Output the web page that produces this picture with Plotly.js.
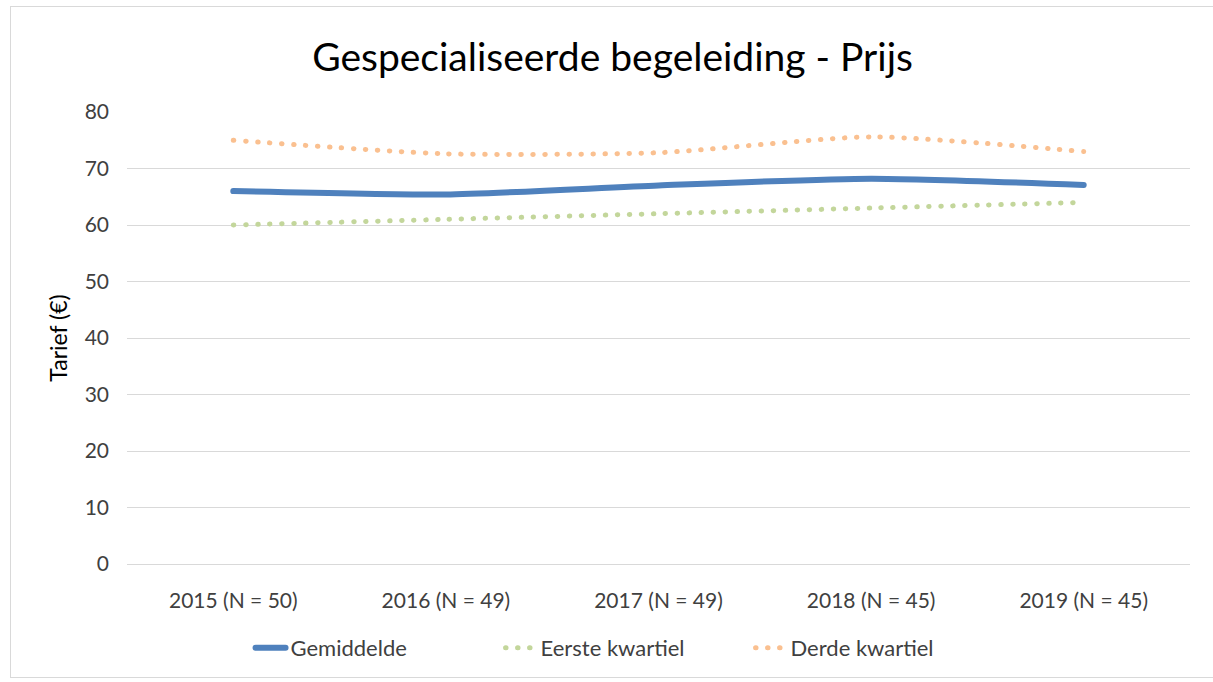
<!DOCTYPE html>
<html>
<head>
<meta charset="utf-8">
<script src="https://cdn.plot.ly/plotly-3.0.1.min.js"></script>
<style>
  html, body { margin: 0; padding: 0; background: #fff; }
  #chart { width: 1213px; height: 682px; }
  #frame { position: absolute; left: 10px; top: 6px; width: 1220px; height: 670px; border: 1px solid #d9d9d9; pointer-events: none; }
  .scatterlayer .js-line, .legend .js-line { stroke-linecap: round; }
</style>
</head>
<body>
<div id="chart"></div>
<div id="frame"></div>
<script>
const categories = ["2015 (N = 50)", "2016 (N = 49)", "2017 (N = 49)", "2018 (N = 45)", "2019 (N = 45)"];
const gemiddelde = [66.0, 65.4, 67.0, 68.2, 67.1];
const eersteKwartiel = [60.0, 61.0, 62.0, 63.0, 64.0];
const derdeKwartiel = [75.0, 72.6, 72.8, 75.6, 73.0];
const yTicks = [0, 10, 20, 30, 40, 50, 60, 70, 80];

const font = "Lato, 'Open Sans', sans-serif";

const traces = [
  { x: categories, y: gemiddelde, name: "Gemiddelde", type: "scatter", mode: "lines",
    line: { color: "#4f81bd", width: 6, shape: "spline", smoothing: 0.6 } },
  { x: categories, y: eersteKwartiel, name: "Eerste kwartiel", type: "scatter", mode: "lines",
    line: { color: "#c3d69b", width: 5, shape: "spline", smoothing: 0.6, dash: "0.5px,11.5px" } },
  { x: categories, y: derdeKwartiel, name: "Derde kwartiel", type: "scatter", mode: "lines",
    line: { color: "#fac090", width: 5, shape: "spline", smoothing: 0.6, dash: "0.5px,11.5px" } }
];

const layout = {
  width: 1213, height: 682,
  margin: { l: 127, r: 23, t: 112, b: 118 },
  paper_bgcolor: "#fff", plot_bgcolor: "#fff",
  font: { family: font, color: "#404040" },
  title: { text: "Gespecialiseerde begeleiding - Prijs", font: { family: font, size: 39, color: "#000" },
           x: 0.505, xref: "container", xanchor: "center", y: 1 - 57 / 682, yref: "container", yanchor: "middle" },
  xaxis: { type: "category", range: [-0.5, 4.5], showgrid: false, zeroline: false, automargin: false,
           showline: true, linecolor: "#d9d9d9", linewidth: 1, ticks: "", tickangle: 0,
           tickfont: { family: font, size: 21, color: "#404040" }, ticklabelstandoff: 18 },
  yaxis: { range: [0, 80], tickvals: yTicks, showgrid: true, gridcolor: "#d9d9d9", gridwidth: 1,
           zeroline: false, showline: false, ticks: "", automargin: false,
           tickfont: { family: font, size: 21, color: "#404040" }, ticklabelstandoff: 17,
           title: { text: "Tarief (€)", font: { family: font, size: 23, color: "#000" }, standoff: 10 } },
  legend: { orientation: "h", xref: "paper", x: 0.469, xanchor: "center", yref: "paper", y: -0.186, yanchor: "middle",
            font: { family: font, size: 22, color: "#404040" }, tracegroupgap: 0, entrywidth: 205 },
  showlegend: true
};

Plotly.newPlot("chart", traces, layout, { displayModeBar: false, staticPlot: true });
</script>
</body>
</html>
